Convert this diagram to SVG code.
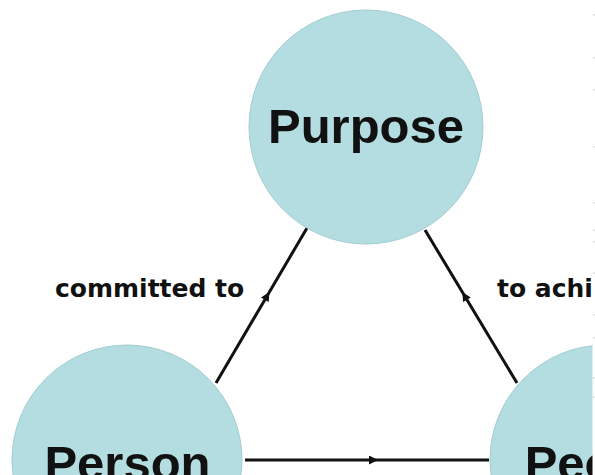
<svg xmlns="http://www.w3.org/2000/svg" width="595" height="475" viewBox="0 0 595 475">
  <style>
    .node { fill: #b3dde1; stroke: #a3cdd1; stroke-width: 1; }
    .title { font-family: "Liberation Sans", Arial, sans-serif; font-weight: bold; font-size: 49px; fill: #111; text-anchor: middle; }
    .label { font-family: "DejaVu Sans", Verdana, sans-serif; font-weight: bold; font-size: 25px; fill: #111; }
    .edge { fill: none; stroke: #111; stroke-width: 3; marker-mid: url(#arrow); }
    .tick { stroke: #c8c8c8; stroke-width: 1; }
  </style>
  <defs>
    <marker id="arrow" viewBox="0 0 10 10" refX="10" refY="5" markerWidth="3.2" markerHeight="3" markerUnits="strokeWidth" orient="auto">
      <path d="M0,0 L10,5 L0,10 Z" fill="#111"/>
    </marker>
  </defs>
  <rect width="595" height="475" fill="#ffffff"/>

  <g id="connectors">
    <path class="edge" d="M216,383 L269.4,292 L307,228"/>
    <path class="edge" d="M517,383 L462.3,292 L425,230"/>
    <path class="edge" d="M245,460 L378,460 L489,460"/>
  </g>

  <g id="node-purpose">
    <circle class="node" cx="366" cy="127" r="117"/>
    <text class="title" x="366" y="143">Purpose</text>
  </g>

  <g id="node-person">
    <circle class="node" cx="127" cy="460" r="115"/>
    <text class="title" x="127.5" y="480">Person</text>
  </g>

  <g id="node-people">
    <circle class="node" cx="605" cy="460" r="115"/>
    <text class="title" x="605" y="480">People</text>
  </g>

  <g id="labels">
    <text class="label" x="55" y="297">committed to</text>
    <text class="label" x="497" y="297">to achi</text>
  </g>

  <g id="edge-strip">
    <rect x="592.5" y="0" width="2.5" height="475" fill="#ffffff"/>
    <line class="tick" x1="593" y1="15" x2="595" y2="15"/>
    <line class="tick" x1="593" y1="58" x2="595" y2="58"/>
    <line class="tick" x1="593" y1="90" x2="595" y2="90"/>
    <line class="tick" x1="593" y1="147" x2="595" y2="147"/>
    <line class="tick" x1="593" y1="203" x2="595" y2="203"/>
    <line class="tick" x1="593" y1="230" x2="595" y2="230"/>
    <line class="tick" x1="593" y1="242" x2="595" y2="242"/>
    <line class="tick" x1="593" y1="273" x2="595" y2="273"/>
    <line class="tick" x1="593" y1="315" x2="595" y2="315"/>
    <line class="tick" x1="593" y1="338" x2="595" y2="338"/>
    <line class="tick" x1="593" y1="378" x2="595" y2="378"/>
    <line class="tick" x1="593" y1="397" x2="595" y2="397"/>
  </g>
</svg>
